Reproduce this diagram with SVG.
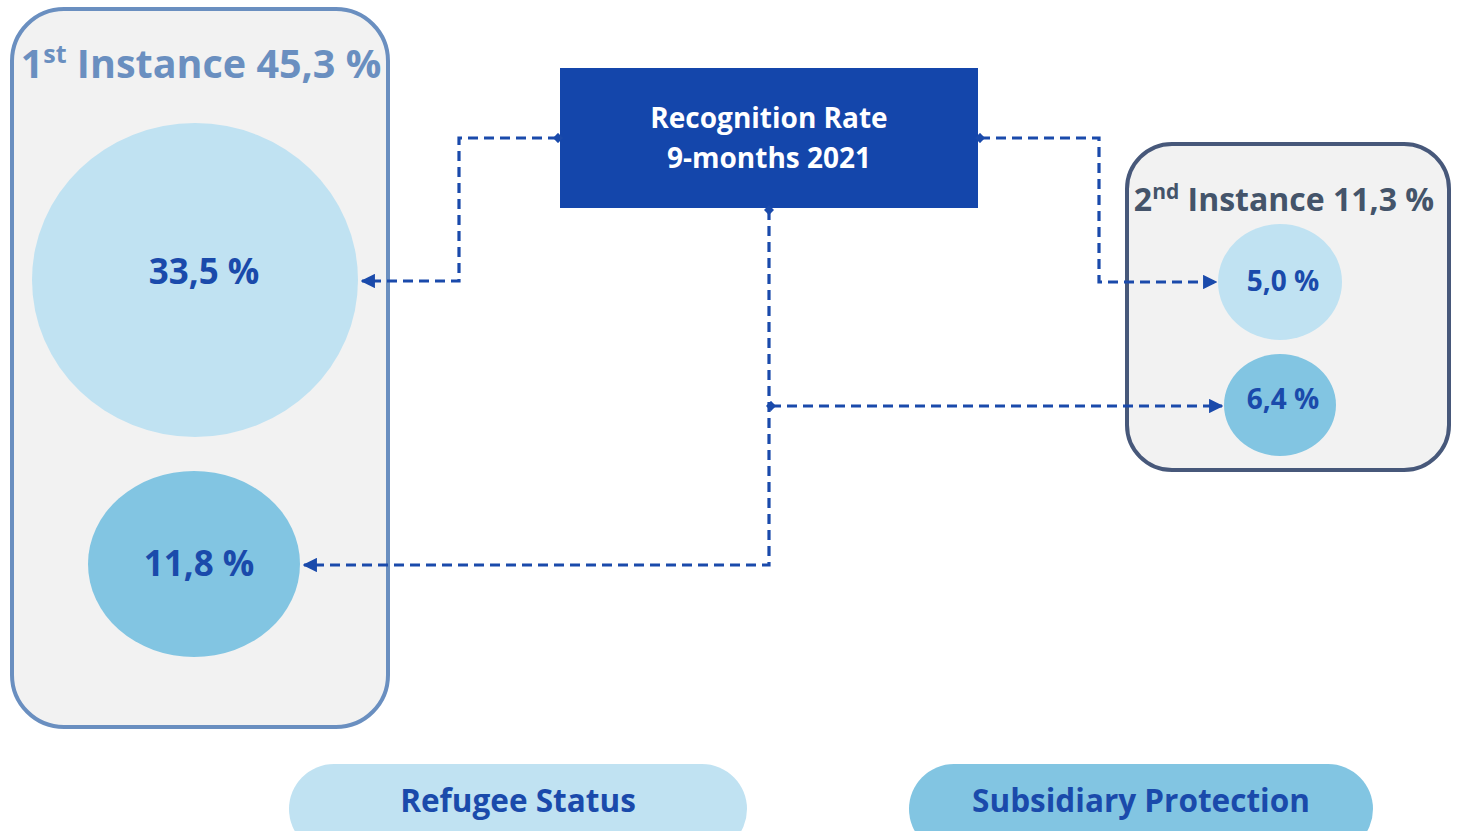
<svg xmlns="http://www.w3.org/2000/svg" width="1461" height="831" viewBox="0 0 1461 831">
<defs>
<style>
.t{font-family:"Open Sans","Liberation Sans",sans-serif;font-weight:bold;}
.lbl{fill:#1a4aab;font-size:35px;text-anchor:middle;}
.c{fill:none;stroke:#1a4aab;stroke-width:3.2;stroke-dasharray:10 6;}
.light{fill:#c0e2f2;}
.dark{fill:#82c5e2;}
</style>
<marker id="arr" viewBox="0 0 10 10" refX="9" refY="5" markerWidth="4.5" markerHeight="4.5" orient="auto" markerUnits="strokeWidth">
<path d="M0,0 L10,5 L0,10 z" fill="#1a4aab"/>
</marker>
<marker id="dot" viewBox="0 0 10 10" refX="5" refY="5" markerWidth="3.2" markerHeight="3.2" orient="auto" markerUnits="strokeWidth">
<path d="M0,5 L5,0 L10,5 L5,10 z" fill="#1a4aab"/>
</marker>
</defs>
<rect width="1461" height="831" fill="#ffffff"/>
<g id="first-instance">
<rect x="12" y="9" width="376" height="718" rx="52" fill="#f2f2f2" stroke="#6a8fc0" stroke-width="4"/>
<text class="t" x="201" y="78" font-size="39.5" fill="#6a8fc0" text-anchor="middle">1<tspan font-size="25" dy="-15">st</tspan><tspan dy="15"> Instance 45,3 %</tspan></text>
</g>
<g id="rs-first">
<ellipse class="light" cx="195" cy="280" rx="163" ry="157"/>
<text class="t lbl" x="204" y="284">33,5 %</text>
</g>
<g id="sp-first">
<ellipse class="dark" cx="194" cy="564" rx="106" ry="93"/>
<text class="t lbl" x="199" y="576">11,8 %</text>
</g>
<g id="recognition-rate">
<rect x="560" y="68" width="418" height="140" fill="#1446ab"/>
<text class="t" x="769" y="128" font-size="28" fill="#ffffff" text-anchor="middle">Recognition Rate</text>
<text class="t" x="769" y="168" font-size="28" fill="#ffffff" text-anchor="middle">9-months 2021</text>
</g>
<g id="second-instance">
<rect x="1127" y="144" width="322" height="326" rx="45" fill="#f2f2f2" stroke="#47587a" stroke-width="4"/>
<text class="t" x="1284" y="211" font-size="32" fill="#44546a" text-anchor="middle">2<tspan font-size="21" dy="-12">nd</tspan><tspan dy="12"> Instance 11,3 %</tspan></text>
</g>
<g id="rs-second">
<ellipse class="light" cx="1280" cy="282" rx="62" ry="58"/>
<text class="t" x="1283" y="291" font-size="28" fill="#1a4aab" text-anchor="middle">5,0 %</text>
</g>
<g id="sp-second">
<ellipse class="dark" cx="1280" cy="405" rx="56" ry="51"/>
<text class="t" x="1283" y="409" font-size="28" fill="#1a4aab" text-anchor="middle">6,4 %</text>
</g>
<g id="legend-refugee">
<rect x="289" y="764" width="458" height="90" rx="45" class="light"/>
<text class="t" x="518" y="812" font-size="31.5" fill="#1a4aab" text-anchor="middle">Refugee Status</text>
</g>
<g id="legend-subsidiary">
<rect x="909" y="764" width="464" height="90" rx="45" class="dark"/>
<text class="t" x="1141" y="812" font-size="31.5" fill="#1a4aab" text-anchor="middle">Subsidiary Protection</text>
</g>
<g id="connectors">
<path class="c" d="M558,138 H459 V281 H362" marker-start="url(#dot)" marker-end="url(#arr)"/>
<path class="c" d="M980,138 H1099 V282 H1216" marker-start="url(#dot)" marker-end="url(#arr)"/>
<path class="c" d="M769,210 V565 H304" marker-start="url(#dot)" marker-end="url(#arr)"/>
<path class="c" d="M771,406 H1222" marker-start="url(#dot)" marker-end="url(#arr)"/>
</g>
</svg>
